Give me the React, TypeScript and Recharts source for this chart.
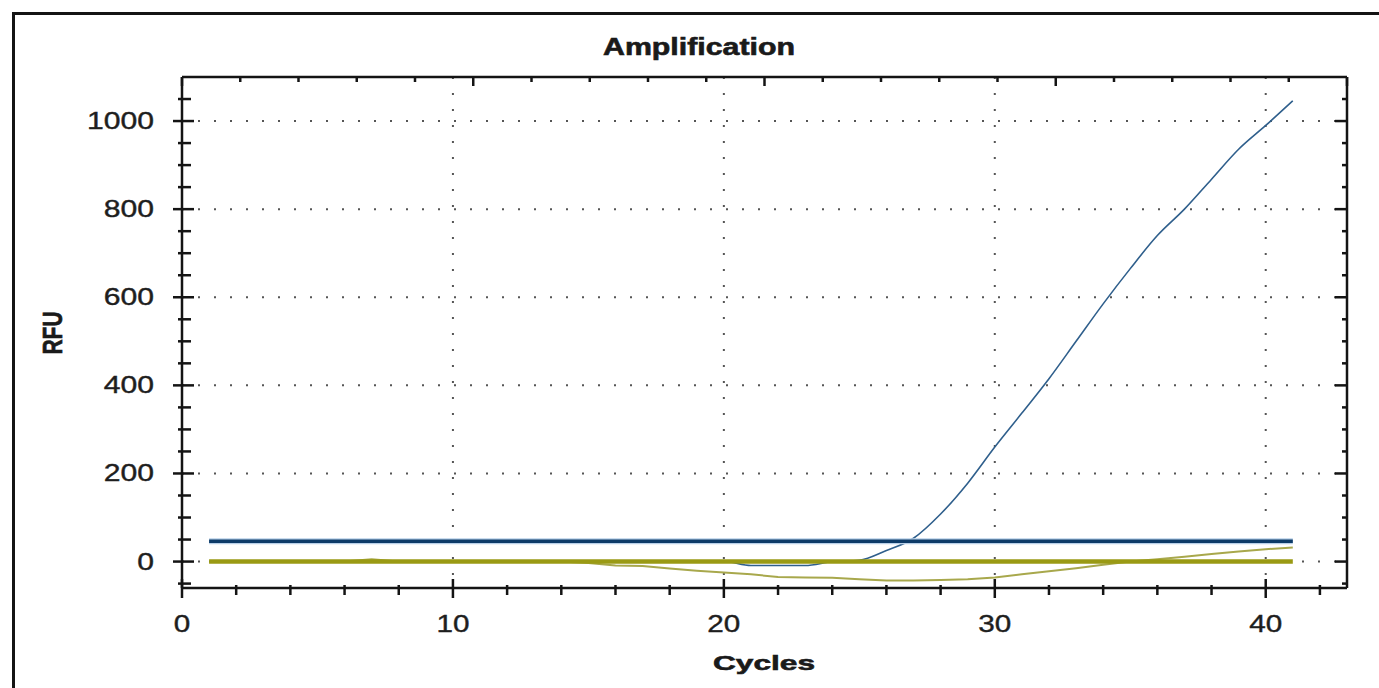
import * as React from "react";
import {
  LineChart,
  Line,
  XAxis,
  YAxis,
  CartesianGrid,
} from "recharts";

// cycle numbers on the x axis
const cycles = [
  1, 2, 3, 4, 5, 6, 7, 8, 9, 10, 11, 12, 13, 14, 15, 16, 17, 18, 19, 20, 21,
  22, 23, 24, 25, 26, 27, 28, 29, 30, 31, 32, 33, 34, 35, 36, 37, 38, 39, 40,
  41,
];

// sample that amplifies (blue)
const amplificationRFU = [
  0, 0, 0, 0, 0, 0, 0, 0, 0, 0, 0, 0, 0, 0, 0, 0, 0, 0, 0, 0, -9, -9, -9, 0,
  3, 25, 53, 108, 178, 260, 337, 415, 500, 585, 665, 740, 800, 868, 936, 990,
  1046,
];

// sample that drifts below baseline (thin olive)
const negativeRFU = [
  0, 0, 0, 0, 0, 0, 5, 0, 0, 0, 0, 0, 0, 0, -3, -9, -10, -16, -21, -25, -29,
  -35, -36, -37, -40, -43, -43, -42, -40, -36, -29, -22, -15, -7, 0, 5, 11, 17,
  23, 28, 32,
];

const THRESHOLD_RFU = 46;
const BASELINE_RFU = 0;

const xTicks = [
  0, 2, 4, 6, 8, 10, 12, 14, 16, 18, 20, 22, 24, 26, 28, 30, 32, 34, 36, 38, 40,
  42,
];
const yTicks = [
  -50, 0, 50, 100, 150, 200, 250, 300, 350, 400, 450, 500, 550, 600, 650, 700,
  750, 800, 850, 900, 950, 1000, 1050,
];
const gridX = [10, 20, 30, 40];
const gridY = [0, 200, 400, 600, 800, 1000];

const rows = cycles.map((c, i) => ({
  cycle: c,
  amp: amplificationRFU[i],
  neg: negativeRFU[i],
  threshold: THRESHOLD_RFU,
  baseline: BASELINE_RFU,
}));

const INK = "#141414";
const FONT = "'Liberation Sans', Arial, sans-serif";

const BottomTick = (props: any) => {
  const { x, y, payload } = props;
  const major = payload.value % 10 === 0;
  const label = String(payload.value);
  return (
    <g>
      <line
        x1={x}
        x2={x}
        y1={y - (major ? 9 : 3)}
        y2={y + (major ? 10 : 7)}
        stroke={INK}
        strokeWidth={2.5}
      />
      {major && (
        <text
          x={x}
          y={y + 44}
          textAnchor="middle"
          fontSize={24}
          fontFamily={FONT}
          fill="#1e1e1e"
          stroke="#1e1e1e"
          strokeWidth={0.4}
          textLength={label.length * 16.5}
          lengthAdjust="spacingAndGlyphs"
        >
          {label}
        </text>
      )}
    </g>
  );
};

const TopTick = (props: any) => {
  const { x, y, payload } = props;
  const major = payload.value % 10 === 0;
  return (
    <line
      x1={x}
      x2={x}
      y1={y}
      y2={y + (major ? 9 : 5)}
      stroke={INK}
      strokeWidth={2.5}
    />
  );
};

const LeftTick = (props: any) => {
  const { x, y, payload } = props;
  const major = payload.value % 200 === 0;
  const label = String(payload.value);
  return (
    <g>
      <line
        x1={x - (major ? 9 : 4)}
        x2={x + (major ? 12 : 9)}
        y1={y}
        y2={y}
        stroke={INK}
        strokeWidth={2.5}
      />
      {major && (
        <text
          x={x - 28}
          y={y + 8}
          textAnchor="end"
          fontSize={24}
          fontFamily={FONT}
          fill="#1e1e1e"
          stroke="#1e1e1e"
          strokeWidth={0.4}
          textLength={label.length * 16.75}
          lengthAdjust="spacingAndGlyphs"
        >
          {label}
        </text>
      )}
    </g>
  );
};

const RightTick = (props: any) => {
  const { x, y, payload } = props;
  const major = payload.value % 200 === 0;
  return (
    <line
      x1={x - (major ? 12 : 5)}
      x2={x}
      y1={y}
      y2={y}
      stroke={INK}
      strokeWidth={2.5}
    />
  );
};

const axisLine = { stroke: INK, strokeWidth: 2.5 };

export default function App() {
  return (
    <div
      style={{
        position: "absolute",
        left: 0,
        top: 0,
        width: 1379,
        height: 688,
        background: "#fff",
        overflow: "hidden",
      }}
    >
      <LineChart
        width={1379}
        height={688}
        data={rows}
        margin={{ top: 72, right: 27, bottom: 70, left: 122 }}
      >
        <CartesianGrid
          stroke="#555"
          strokeWidth={2}
          strokeDasharray="2 14"
          verticalValues={gridX}
          horizontalValues={gridY}
        />
        <XAxis
          dataKey="cycle"
          type="number"
          domain={[0, 43]}
          allowDataOverflow
          ticks={xTicks}
          interval={0}
          height={30}
          tickSize={0}
          tickMargin={0}
          tickLine={false}
          axisLine={axisLine}
          tick={<BottomTick />}
        />
        <XAxis
          xAxisId="top"
          orientation="top"
          type="number"
          domain={[0, 43]}
          allowDataOverflow
          ticks={xTicks}
          interval={0}
          height={5}
          tickSize={0}
          tickMargin={0}
          tickLine={false}
          axisLine={axisLine}
          tick={<TopTick />}
        />
        <YAxis
          type="number"
          domain={[-60, 1100]}
          allowDataOverflow
          ticks={yTicks}
          interval={0}
          width={60}
          tickSize={0}
          tickMargin={0}
          tickLine={false}
          axisLine={axisLine}
          tick={<LeftTick />}
        />
        <YAxis
          yAxisId="right"
          orientation="right"
          type="number"
          domain={[-60, 1100]}
          allowDataOverflow
          ticks={yTicks}
          interval={0}
          width={5}
          tickSize={0}
          tickMargin={0}
          tickLine={false}
          axisLine={axisLine}
          tick={<RightTick />}
        />
        <Line
          dataKey="neg"
          stroke="#a8a84c"
          strokeWidth={2}
          dot={false}
          activeDot={false}
          isAnimationActive={false}
        />
        <Line
          dataKey="amp"
          type="monotone"
          stroke="#2f5f8c"
          strokeWidth={1.6}
          dot={false}
          activeDot={false}
          isAnimationActive={false}
        />
        <Line
          dataKey="baseline"
          stroke="#9a9a14"
          strokeWidth={4.5}
          dot={false}
          activeDot={false}
          isAnimationActive={false}
        />
        <Line
          dataKey="threshold"
          stroke="#b9d0e8"
          strokeWidth={6}
          dot={false}
          activeDot={false}
          isAnimationActive={false}
        />
        <Line
          dataKey="threshold"
          stroke="#0d3b68"
          strokeWidth={3.5}
          dot={false}
          activeDot={false}
          isAnimationActive={false}
        />
      </LineChart>
      <svg
        width={1379}
        height={688}
        style={{ position: "absolute", left: 0, top: 0, pointerEvents: "none" }}
      >
        <path d="M13.5 688 V13.5 H1379" fill="none" stroke={INK} strokeWidth={3} />
        <text
          x={699}
          y={55}
          textAnchor="middle"
          fontSize={23}
          fontWeight="bold"
          fontFamily={FONT}
          fill="#1a1a1a"
          stroke="#1a1a1a"
          strokeWidth={0.6}
          textLength={192}
          lengthAdjust="spacingAndGlyphs"
        >
          Amplification
        </text>
        <text
          x={764}
          y={670}
          textAnchor="middle"
          fontSize={21}
          fontWeight="bold"
          fontFamily={FONT}
          fill="#1a1a1a"
          stroke="#1a1a1a"
          strokeWidth={0.6}
          textLength={102}
          lengthAdjust="spacingAndGlyphs"
        >
          Cycles
        </text>
        <text
          transform="translate(62 333) rotate(-90) scale(1 1.4)"
          textAnchor="middle"
          fontSize={20}
          fontWeight="bold"
          fontFamily={FONT}
          fill="#1a1a1a"
          stroke="#1a1a1a"
          strokeWidth={0.5}
          textLength={43}
          lengthAdjust="spacingAndGlyphs"
        >
          RFU
        </text>
      </svg>
    </div>
  );
}
